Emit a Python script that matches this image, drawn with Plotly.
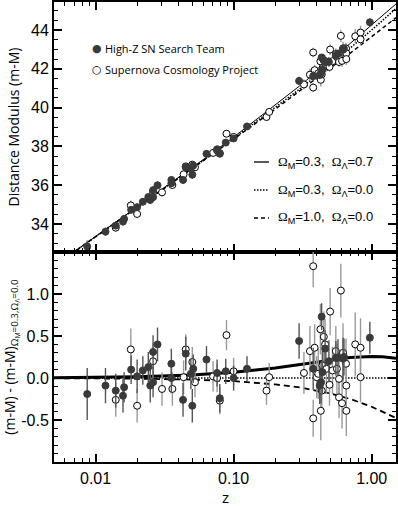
import numpy as np
import plotly.graph_objects as go

# ---------------- data ----------------
# model table: redshift nodes, distance modulus of the (0.3, 0.0) reference model
model_z = [0.005, 0.01, 0.02, 0.05, 0.1, 0.2, 0.3, 0.5, 0.7, 1.0, 1.2, 1.5]
mu_ref = [31.819, 33.329, 34.843, 36.860, 38.408, 39.997, 40.955, 42.206, 43.064, 44.005, 44.499, 45.116]
# residuals of the other models relative to the reference model
res_lcdm = [0.004, 0.008, 0.015, 0.036, 0.068, 0.120, 0.161, 0.216, 0.244, 0.256, 0.252, 0.234]
res_open = [0, 0, 0, 0, 0, 0, 0, 0, 0, 0, 0, 0]
res_eds = [-0.002, -0.004, -0.008, -0.019, -0.037, -0.076, -0.112, -0.183, -0.250, -0.342, -0.398, -0.475]

# High-Z SN Search Team (filled)
hz_z = [0.0087, 0.0118, 0.0140, 0.0158, 0.0161, 0.0181, 0.0200, 0.0220, 0.0241, 0.0249,
        0.0261, 0.0261, 0.0281, 0.0354, 0.0354, 0.0430, 0.0450, 0.0490, 0.0502, 0.0510,
        0.0636, 0.0759, 0.0794, 0.0877, 0.100, 0.125, 0.298, 0.377, 0.434, 0.430,
        0.420, 0.440, 0.460, 0.490, 0.550, 0.570, 0.620, 0.630, 0.970]
hz_res = [-0.19, -0.09, -0.15, -0.21, -0.11, 0.10, 0.02, 0.09, 0.13, -0.09,
          0.31, -0.05, 0.40, 0.17, 0.00, -0.26, 0.29, 0.05, -0.33, 0.11,
          0.22, 0.06, -0.24, 0.08, 0.00, 0.11, 0.44, 0.11, 0.73, -0.05,
          -0.09, 0.07, 0.35, 0.20, 0.24, 0.24, 0.23, 0.25, 0.48]
hz_err = [0.31, 0.21, 0.20, 0.20, 0.18, 0.17, 0.20, 0.17, 0.18, 0.20,
          0.20, 0.18, 0.20, 0.18, 0.18, 0.20, 0.20, 0.18, 0.20, 0.17,
          0.16, 0.16, 0.17, 0.15, 0.15, 0.15, 0.21, 0.25, 0.16, 0.25,
          0.22, 0.25, 0.22, 0.25, 0.20, 0.22, 0.25, 0.22, 0.19]

# Supernova Cosmology Project (open)
scp_z = [0.0140, 0.0180, 0.0200, 0.0261, 0.0303, 0.0360, 0.0434, 0.0450, 0.0502, 0.0525,
         0.0710, 0.0759, 0.0794, 0.0888, 0.100, 0.173, 0.181, 0.323, 0.357, 0.377,
         0.377, 0.386, 0.400, 0.410, 0.425, 0.428, 0.435, 0.440, 0.450, 0.460,
         0.470, 0.495, 0.500, 0.520, 0.550, 0.560, 0.580, 0.580, 0.598, 0.610,
         0.620, 0.652, 0.655, 0.655, 0.760, 0.830, 0.830]
scp_res = [-0.26, 0.34, -0.33, 0.20, -0.13, -0.13, 0.01, 0.34, 0.19, -0.05,
           0.02, 0.00, -0.27, 0.51, 0.08, -0.15, 0.01, 0.06, 0.32, 1.33,
           -0.48, 0.36, 0.01, 0.05, 0.58, -0.39, -0.15, 0.15, 0.49, 0.40,
           0.11, -0.08, 0.79, 0.09, 0.32, 0.11, -0.01, -0.23, 1.04, -0.30,
           0.30, 0.17, -0.09, -0.39, 0.40, 0.36, 0.01]
scp_err = [0.20, 0.25, 0.20, 0.22, 0.20, 0.20, 0.20, 0.18, 0.18, 0.18,
           0.18, 0.17, 0.16, 0.18, 0.16, 0.17, 0.17, 0.25, 0.30, 0.25,
           0.22, 0.28, 0.25, 0.30, 0.30, 0.35, 0.25, 0.28, 0.30, 0.30,
           0.30, 0.25, 0.28, 0.28, 0.30, 0.30, 0.30, 0.25, 0.32, 0.30,
           0.35, 0.30, 0.30, 0.30, 0.38, 0.35, 0.30]

# axis ticks
x_major = [0.01, 0.1, 1.0]
x_major_text = ["0.01", "0.10", "1.00"]
x_minor = [0.005, 0.006, 0.007, 0.008, 0.009,
           0.02, 0.03, 0.04, 0.05, 0.06, 0.07, 0.08, 0.09,
           0.2, 0.3, 0.4, 0.5, 0.6, 0.7, 0.8, 0.9]
y_top_ticks = [34, 36, 38, 40, 42, 44]
y_bot_ticks = [-0.5, 0.0, 0.5, 1.0]
y_bot_text = ["-0.5", "0.0", "0.5", "1.0"]

# ---------------- derived ----------------
lz_model = np.log10(model_z)
mu_ref_a = np.array(mu_ref)
mu_lcdm = mu_ref_a + np.array(res_lcdm)
mu_open = mu_ref_a + np.array(res_open)
mu_eds = mu_ref_a + np.array(res_eds)

def mu_at(z, res):
    return np.interp(np.log10(z), lz_model, mu_ref_a) + np.array(res)

hz_mu = mu_at(hz_z, hz_res)
scp_mu = mu_at(scp_z, scp_res)

FILL = "#3a3a3a"
TICKF = dict(family="Liberation Sans, Arial, sans-serif", size=16, color="black")
TITLEF = dict(family="Open Sans, sans-serif", size=14, color="black")

fig = go.Figure()

# ---- top panel model lines ----
fig.add_trace(go.Scatter(x=model_z, y=mu_lcdm, mode="lines", line=dict(color="black", width=1),
                         xaxis="x", yaxis="y", showlegend=False, hoverinfo="skip"))
fig.add_trace(go.Scatter(x=model_z, y=mu_open, mode="lines", line=dict(color="black", width=1.5, dash="1.5px,1.5px"),
                         xaxis="x", yaxis="y", showlegend=False, hoverinfo="skip"))
fig.add_trace(go.Scatter(x=model_z, y=mu_eds, mode="lines", line=dict(color="black", width=1.5, dash="4px,3px"),
                         xaxis="x", yaxis="y", showlegend=False, hoverinfo="skip"))

# ---- bottom panel model lines ----
fig.add_trace(go.Scatter(x=model_z, y=res_lcdm, mode="lines", line=dict(color="black", width=3),
                         xaxis="x2", yaxis="y2", showlegend=False, hoverinfo="skip"))
fig.add_trace(go.Scatter(x=model_z, y=res_open, mode="lines", line=dict(color="black", width=1.5, dash="1.5px,1.5px"),
                         xaxis="x2", yaxis="y2", showlegend=False, hoverinfo="skip"))
fig.add_trace(go.Scatter(x=model_z, y=res_eds, mode="lines", line=dict(color="black", width=1.8, dash="6px,4px"),
                         xaxis="x2", yaxis="y2", showlegend=False, hoverinfo="skip"))

def pts(x, y, err, filled, xa, ya):
    return go.Scatter(
        x=x, y=y, mode="markers", xaxis=xa, yaxis=ya, showlegend=False, hoverinfo="skip",
        error_y=dict(type="data", array=err, visible=True, width=0, thickness=1.4,
                     color="#555555" if filled else "#9a9a9a"),
        marker=dict(size=7, color=FILL if filled else "white",
                    line=dict(color=FILL if filled else "black", width=1)),
    )

fig.add_trace(pts(scp_z, scp_mu, scp_err, False, "x", "y"))
fig.add_trace(pts(hz_z, hz_mu, hz_err, True, "x", "y"))
fig.add_trace(pts(scp_z, scp_res, scp_err, False, "x2", "y2"))
fig.add_trace(pts(hz_z, hz_res, hz_err, True, "x2", "y2"))

split = (462 - 252) / 460.0
xr = [np.log10(0.005), np.log10(1.5)]

common_x = dict(type="log", range=xr, tickmode="array", tickvals=x_major, ticktext=x_major_text,
                ticks="inside", ticklen=8, tickwidth=1.5, tickcolor="black",
                showline=True, linewidth=2, linecolor="black", mirror="ticks",
                showgrid=False, zeroline=False, tickfont=TICKF, automargin=False)
minor_x = dict(type="log", range=xr, tickmode="array", tickvals=x_minor, showticklabels=False,
               ticks="inside", ticklen=4, tickwidth=1, tickcolor="black",
               showline=False, mirror="ticks", showgrid=False, zeroline=False, automargin=False)
common_y = dict(ticks="inside", ticklen=8, tickwidth=1.5, tickcolor="black",
                showline=True, linewidth=2, linecolor="black", mirror="ticks",
                showgrid=False, zeroline=False, tickfont=TICKF, automargin=False)

fig.update_layout(
    width=398, height=506,
    margin=dict(l=54, r=2, t=2, b=44, autoexpand=False),
    paper_bgcolor="white", plot_bgcolor="white",
    showlegend=False, hovermode=False,
    xaxis=dict(common_x, anchor="y", showticklabels=False, domain=[0, 1]),
    xaxis3=dict(minor_x, anchor="y", overlaying="x", domain=[0, 1]),
    yaxis=dict(common_y, anchor="x", domain=[split, 1], range=[32.55, 45.45],
               tickmode="array", tickvals=y_top_ticks,
               minor=dict(ticks="inside", ticklen=4, tickwidth=1, tickcolor="black", dtick=0.5, tick0=0,
                          showgrid=False),
               title=dict(text="Distance Modulus (m-M)", font=TITLEF, standoff=8)),
    xaxis2=dict(common_x, anchor="y2", domain=[0, 1], ticklabelstandoff=1),
    xaxis4=dict(minor_x, anchor="y2", overlaying="x2", domain=[0, 1]),
    yaxis2=dict(common_y, anchor="x2", domain=[0, split], range=[-0.999, 1.499],
                tickmode="array", tickvals=y_bot_ticks, ticktext=y_bot_text,
                minor=dict(ticks="inside", ticklen=4, tickwidth=1, tickcolor="black", dtick=0.1, tick0=0,
                           showgrid=False),
                title=dict(text="(m-M) - (m-M)<sub>Ω<sub>M</sub>=0.3,Ω<sub>Λ</sub>=0.0</sub>",
                           font=TITLEF, standoff=8)),
)

# invisible anchors so the tick-only overlay axes are drawn
fig.add_trace(go.Scatter(x=[model_z[0]], y=[mu_ref[0]], xaxis="x3", yaxis="y", mode="markers",
                         marker=dict(opacity=0), showlegend=False, hoverinfo="skip"))
fig.add_trace(go.Scatter(x=[model_z[0]], y=[res_open[0]], xaxis="x4", yaxis="y2", mode="markers",
                         marker=dict(opacity=0), showlegend=False, hoverinfo="skip"))

def px(x):
    return (x - 54) / 342.0

def py(y):
    return (462 - y) / 460.0

LEGF = dict(family="Open Sans, sans-serif", size=11, color="black")
ann = []
ann.append(dict(x=px(225), y=py(497), xref="paper", yref="paper", text="z", showarrow=False,
                xanchor="center", yanchor="middle", font=dict(family="Open Sans, sans-serif", size=15, color="black")))
ann.append(dict(x=px(97), y=py(49), xref="paper", yref="paper", text="●", showarrow=False,
                xanchor="center", yanchor="middle", font=dict(family="DejaVu Sans", size=11, color=FILL)))
ann.append(dict(x=px(103), y=py(49), xref="paper", yref="paper", text="High-Z SN Search Team", showarrow=False,
                xanchor="left", yanchor="middle", font=LEGF))
ann.append(dict(x=px(97), y=py(69), xref="paper", yref="paper", text="○", showarrow=False,
                xanchor="center", yanchor="middle", font=dict(family="DejaVu Sans", size=11, color="black")))
ann.append(dict(x=px(103), y=py(69), xref="paper", yref="paper", text="Supernova Cosmology Project", showarrow=False,
                xanchor="left", yanchor="middle", font=LEGF))

LINEF = dict(family="Liberation Sans, Arial, sans-serif", size=13, color="black")
OM = '<span style="font-family:Liberation Serif">Ω</span>'
line_labels = [OM + "<sub>M</sub>=0.3,  " + OM + "<sub>Λ</sub>=0.7",
               OM + "<sub>M</sub>=0.3,  " + OM + "<sub>Λ</sub>=0.0",
               OM + "<sub>M</sub>=1.0,  " + OM + "<sub>Λ</sub>=0.0"]
rows = [162, 190, 218]
dashes = ["solid", "1.5px,1.5px", "4px,3px"]
shapes = []
for lab, r, d in zip(line_labels, rows, dashes):
    ann.append(dict(x=px(276), y=py(r), xref="paper", yref="paper", text=lab, showarrow=False,
                    xanchor="left", yanchor="middle", font=LINEF))
    shapes.append(dict(type="line", xref="paper", yref="paper", x0=px(254), x1=px(269),
                       y0=py(r), y1=py(r), line=dict(color="black", width=1.3 if d == "solid" else 1.6, dash=d)))

fig.update_layout(annotations=ann, shapes=shapes)

fig.write_html("out.html", config={"displayModeBar": False},
               post_script="document.body.style.margin='0px';")
